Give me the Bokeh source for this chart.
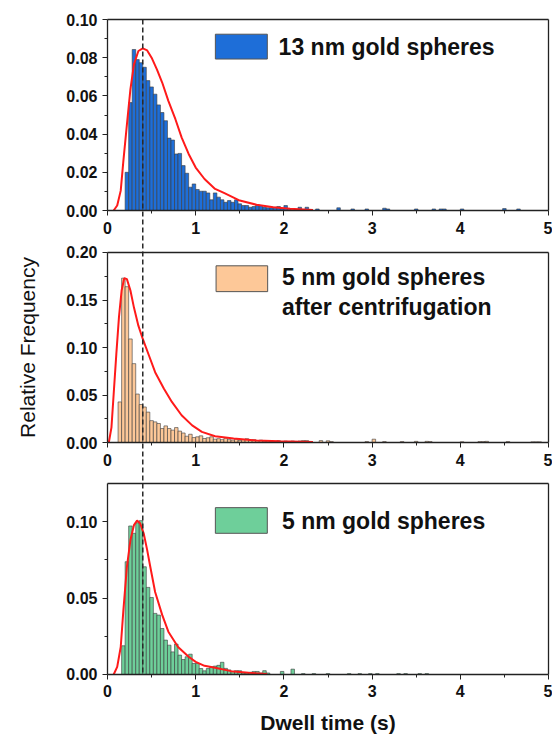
import numpy as np
from bokeh.plotting import figure
from bokeh.models import (Range1d, FixedTicker, PrintfTickFormatter, LinearAxis,
                          Label, BoxAnnotation)
from bokeh.embed import file_html
from bokeh.resources import INLINE

BIN = 0.04

# ---- Panel 1: 13 nm gold spheres ----
p1_start = 0.20
p1_heights = [0.020, 0.0565, 0.0843, 0.079, 0.0774, 0.075, 0.068, 0.0647, 0.0609,
              0.0553, 0.0513, 0.047, 0.0379, 0.0369, 0.0296, 0.0299, 0.0235, 0.0195,
              0.0122, 0.0139, 0.011, 0.0101, 0.0101, 0.0092, 0.0056, 0.0092, 0.0070,
              0.0056, 0.0043, 0.0052, 0.0043, 0.0056, 0.0035, 0.0026, 0.0026, 0.0017,
              0.0021, 0.0030, 0.0026, 0.0017, 0.0014, 0.0014, 0.0017, 0.0021, 0.0009,
              0.0026, 0.0007, 0.0003]
p1_tail_x = [2.16, 2.24, 2.36, 2.60, 2.76, 2.92, 3.12, 3.16, 3.48, 3.68, 3.76, 3.80, 4.00, 4.48, 4.64]
p1_tail_h = [0.0017, 0.0017, 0.0008, 0.0014, 0.0008, 0.0008, 0.0012, 0.0008, 0.0008,
             0.0008, 0.0008, 0.0008, 0.0008, 0.0010, 0.0008]
p1_fit_x = [0.07, 0.11, 0.15, 0.18, 0.22, 0.26, 0.30, 0.35, 0.40, 0.45, 0.50, 0.56, 0.62,
            0.69, 0.77, 0.84, 0.92, 1.00, 1.10, 1.22, 1.32, 1.50, 1.69, 1.88, 2.07, 2.33]
p1_fit_y = [0.0, 0.0026, 0.0104, 0.026, 0.045, 0.0635, 0.0765, 0.0835, 0.0849, 0.0838,
            0.080, 0.0739, 0.067, 0.0574, 0.0478, 0.0383, 0.0296, 0.0225, 0.0165, 0.0113,
            0.0092, 0.0052, 0.003, 0.0017, 0.0009, 0.0003]

# ---- Panel 2: 5 nm gold spheres after centrifugation ----
p2_start = 0.12
p2_heights = [0.0427, 0.173, 0.164, 0.109, 0.083, 0.051, 0.040, 0.0374, 0.032, 0.023,
              0.0217, 0.020, 0.0147, 0.0175, 0.0147, 0.013, 0.0157, 0.012, 0.010, 0.0066,
              0.0087, 0.0052, 0.006, 0.007, 0.0042, 0.005, 0.006, 0.0035, 0.004, 0.003,
              0.0045, 0.003, 0.0025, 0.0035, 0.002, 0.003, 0.004, 0.0025, 0.003, 0.002,
              0.0025, 0.0015, 0.002, 0.0015, 0.001, 0.002, 0.001, 0.0015, 0.001, 0.0015,
              0.001, 0.0015, 0.002, 0.002, 0.001]
p2_tail_x = [2.40, 2.48, 2.52, 2.92, 3.00, 3.12, 3.32, 3.48, 3.60, 3.64, 4.00, 4.20, 4.24,
             4.28, 4.52, 4.80, 4.84, 4.88]
p2_tail_h = [0.002, 0.0018, 0.001, 0.001, 0.0035, 0.001, 0.001, 0.0012, 0.0012, 0.001,
             0.0008, 0.001, 0.001, 0.0012, 0.001, 0.0007, 0.0007, 0.0007]
p2_fit_x = [0.015, 0.045, 0.07, 0.10, 0.13, 0.16, 0.19, 0.22, 0.26, 0.30, 0.35, 0.40, 0.47,
            0.54, 0.64, 0.73, 0.84, 0.96, 1.07, 1.22, 1.43, 1.69, 1.95, 2.33]
p2_fit_y = [0.0, 0.016, 0.051, 0.093, 0.132, 0.160, 0.173, 0.172, 0.160, 0.142, 0.123,
            0.109, 0.0916, 0.074, 0.0566, 0.0427, 0.0287, 0.018, 0.0112, 0.0066, 0.0042,
            0.0021, 0.0014, 0.0005]

# ---- Panel 3: 5 nm gold spheres ----
p3_start = 0.16
p3_heights = [0.0188, 0.0738, 0.0972, 0.0924, 0.0993, 0.1007, 0.0705, 0.057, 0.0504,
              0.040, 0.0389, 0.0301, 0.0225, 0.0192, 0.0148, 0.0199, 0.0127, 0.0098,
              0.0116, 0.0133, 0.0072, 0.0072, 0.0039, 0.0024, 0.0039, 0.005, 0.0055,
              0.006, 0.008, 0.004, 0.003, 0.002, 0.0025, 0.0025, 0.001, 0.001, 0.0015,
              0.002, 0.002, 0.001, 0.0025, 0.001]
p3_tail_x = [1.96, 2.08, 2.20, 2.32, 2.48, 2.72, 2.84, 2.96, 3.04, 3.28, 3.36, 3.52, 3.60]
p3_tail_h = [0.002, 0.0035, 0.0006, 0.0006, 0.0006, 0.0006, 0.0006, 0.0006, 0.0006,
             0.0006, 0.0006, 0.0006, 0.0006]
p3_fit_x = [0.07, 0.11, 0.15, 0.18, 0.22, 0.26, 0.30, 0.335, 0.37, 0.41, 0.45, 0.485,
            0.54, 0.62, 0.69, 0.80, 0.92, 1.00, 1.10, 1.22, 1.40, 1.60, 1.81]
p3_fit_y = [0.0, 0.005, 0.018, 0.042, 0.0705, 0.088, 0.0978, 0.1007, 0.099, 0.0924,
            0.0814, 0.0705, 0.054, 0.039, 0.028, 0.018, 0.0116, 0.0083, 0.0057, 0.0044,
            0.0022, 0.0011, 0.0004]

MARKER_X = 0.4
x_ticks = [0, 1, 2, 3, 4, 5]
x_minor = [0.5, 1.5, 2.5, 3.5, 4.5]

FONT = "Liberation Sans"
INK = "#222222"

# The frame fills the whole 552x740 canvas; each panel has its own y range that
# maps its value span onto its own band, and axes sit at fixed locations.
p = figure(frame_width=552, frame_height=740, min_border_left=0,
           min_border_right=0, min_border_top=0, min_border_bottom=0,
           x_range=Range1d(-1.21315, 5.04535), y_range=Range1d(0, 1),
           x_axis_location=None, y_axis_location=None,
           toolbar_location=None, output_backend="svg")
p.background_fill_color = "white"
p.border_fill_color = "white"
p.grid.visible = False
p.outline_line_color = None

p.extra_y_ranges = {
    "p1": Range1d(-0.277487, 0.109948),
    "p2": Range1d(-0.313684, 0.465263),
    "p3": Range1d(-0.043194, 0.441099),
}


def style_axis(ax, ticks=True, labels=True):
    ax.axis_line_color = INK
    ax.axis_line_width = 1.3
    ax.major_tick_line_color = INK
    ax.minor_tick_line_color = INK
    ax.major_tick_in = 0
    ax.minor_tick_in = 0
    ax.major_tick_out = 5 if ticks else 0
    ax.minor_tick_out = 3 if ticks else 0
    ax.major_label_text_font = FONT
    ax.major_label_text_font_style = "bold"
    ax.major_label_text_font_size = "16px"
    ax.major_label_text_color = "#111111"
    if not labels:
        ax.major_label_text_alpha = 0


def make_panel(name, start, heights, tail_x, tail_h, fit_x, fit_y, ymax, yticks,
               yminor, color, label_lines, box, text_pos, xlabel=None, ylabel=None):
    left = np.round(start + BIN * np.arange(len(heights)), 2)
    lefts = np.concatenate([left, np.array(tail_x)])
    tops = np.concatenate([np.array(heights), np.array(tail_h)])
    p.quad(left=lefts, right=lefts + BIN, bottom=0, top=tops, y_range_name=name,
           fill_color=color, line_color="#3a3a3a", line_width=0.6)
    p.line(fit_x, fit_y, y_range_name=name, line_color="#ff1a1a", line_width=2)

    bl, br, bt, bb = box
    p.add_layout(BoxAnnotation(left=bl, right=br, top=bt, bottom=bb,
                               y_range_name=name, fill_color=color, fill_alpha=1.0,
                               line_color="#555555", line_width=1, line_alpha=1.0))
    for (tx, ty), txt in zip(text_pos, label_lines):
        p.add_layout(Label(x=tx, y=ty, text=txt, y_range_name=name, text_font=FONT,
                           text_font_style="bold", text_font_size="23px",
                           text_color="#111111", text_baseline="alphabetic"))

    # bottom x axis with ticks and labels
    xa = LinearAxis(y_range_name=name, fixed_location=0, bounds=(0, 5),
                    ticker=FixedTicker(ticks=x_ticks, minor_ticks=x_minor))
    style_axis(xa)
    xa.major_label_standoff = 6
    if xlabel:
        xa.axis_label = xlabel
        xa.axis_label_text_font = FONT
        xa.axis_label_text_font_style = "bold"
        xa.axis_label_text_font_size = "21px"
        xa.axis_label_text_color = "#111111"
        xa.axis_label_standoff = 10
    p.add_layout(xa, "below")

    # top border
    xt = LinearAxis(y_range_name=name, fixed_location=ymax, bounds=(0, 5),
                    ticker=FixedTicker(ticks=[]))
    style_axis(xt, ticks=False, labels=False)
    p.add_layout(xt, "above")

    # left y axis
    ya = LinearAxis(y_range_name=name, fixed_location=0, bounds=(0, ymax),
                    ticker=FixedTicker(ticks=yticks, minor_ticks=yminor),
                    formatter=PrintfTickFormatter(format="%.2f"))
    style_axis(ya)
    ya.major_label_standoff = 5
    if ylabel:
        ya.axis_label = ylabel
        ya.axis_label_text_font = FONT
        ya.axis_label_text_font_style = "normal"
        ya.axis_label_text_font_size = "21px"
        ya.axis_label_text_color = "#111111"
        ya.axis_label_standoff = 24
    p.add_layout(ya, "left")

    # right border
    yr = LinearAxis(y_range_name=name, fixed_location=5, bounds=(0, ymax),
                    ticker=FixedTicker(ticks=[]))
    style_axis(yr, ticks=False, labels=False)
    p.add_layout(yr, "right")


make_panel("p1", p1_start, p1_heights, p1_tail_x, p1_tail_h, p1_fit_x, p1_fit_y,
           0.10, [0, 0.02, 0.04, 0.06, 0.08, 0.10], [0.01, 0.03, 0.05, 0.07, 0.09],
           "#1e6ed8", ["13 nm gold spheres"], (1.223, 1.812, 0.0923, 0.0793),
           [(1.94, 0.0854)])
make_panel("p2", p2_start, p2_heights, p2_tail_x, p2_tail_h, p2_fit_x, p2_fit_y,
           0.20, [0, 0.05, 0.10, 0.15, 0.20], [0.025, 0.075, 0.125, 0.175],
           "#fdc898", ["5 nm gold spheres", "after centrifugation"],
           (1.231, 1.816, 0.186, 0.1588), [(1.978, 0.1744), (1.978, 0.143)],
           ylabel="Relative Frequency")
make_panel("p3", p3_start, p3_heights, p3_tail_x, p3_tail_h, p3_fit_x, p3_fit_y,
           0.125, [0, 0.05, 0.10], [0.025, 0.075], "#6ecf9a",
           ["5 nm gold spheres"], (1.223, 1.812, 0.1092, 0.0924),
           [(1.978, 0.1002)], xlabel="Dwell time (s)")

# dashed reference line at 0.4 s, from the top of panel 1 to the bottom of panel 3
# (expressed in panel 1's value scale)
p.segment(x0=[MARKER_X], y0=[0.10], x1=[MARKER_X], y1=[-0.242932], y_range_name="p1",
          line_color="#2a2a2a", line_width=1.5, line_dash="5 3")

open("out.html", "w").write(file_html(p, INLINE))
